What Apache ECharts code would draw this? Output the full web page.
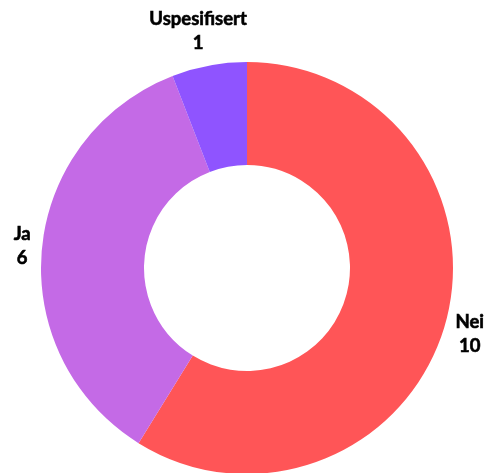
<html>
<head>
<meta charset="utf8">
<script src="https://cdn.jsdelivr.net/npm/echarts@6/dist/echarts.min.js" type="text/javascript"></script>
<title></title>
<style>
  body { margin: 0; }
</style>
</head>
<body>
<div id="echarts-main" style="height:473px;width:486px;"></div>
<script type="text/javascript">
	var categories = ['Nei', 'Ja', 'Uspesifisert'];
	var values = [10, 6, 1];
	var colors = ['#ff5557', '#c46ae6', '#8f54ff'];

	var cx = 247, cy = 268, outerR = 206, innerR = 103, offset = 11;

	function midAngle(idx) {
		var total = 0, before = 0;
		for (var i = 0; i < values.length; i++) {
			total += values[i];
			if (i < idx) before += values[i];
		}
		// clockwise from top, radians
		return (before + values[idx] / 2) / total * Math.PI * 2;
	}

	function drawChart() {
		var myChart = echarts.init(document.getElementById("echarts-main"));
		var data = [];
		for (var i = 0; i < categories.length; i++) {
			data.push({ name: categories[i], value: values[i], itemStyle: { color: colors[i] } });
		}
		var option = {
			animation: false,
			series: [
				{
					type: 'pie',
					center: [cx, cy],
					radius: [innerR, outerR],
					startAngle: 90,
					clockwise: true,
					avoidLabelOverlap: false,
					data: data,
					label: {
						show: true,
						position: 'inside',
						formatter: '{b}\n{c}',
						fontFamily: 'Lato',
						fontWeight: 'bold',
						fontSize: 18.5,
						lineHeight: 24,
						color: '#000',
						textBorderColor: '#000',
						textBorderWidth: 0.6,
						align: 'center',
						overflow: 'none'
					},
					labelLine: { show: false },
					labelLayout: function (p) {
						var a = midAngle(p.dataIndex);
						var dx = Math.sin(a), dy = -Math.cos(a);
						var hw = p.labelRect.width / 2, hh = p.labelRect.height / 2;
						return {
							x: cx + dx * (outerR + offset) + dx * hw,
							y: cy + dy * (outerR + offset) + dy * hh,
							align: 'center',
							verticalAlign: 'middle'
						};
					}
				}
			]
		};
		myChart.setOption(option);
	}

	drawChart();
</script>
</body>
</html>
